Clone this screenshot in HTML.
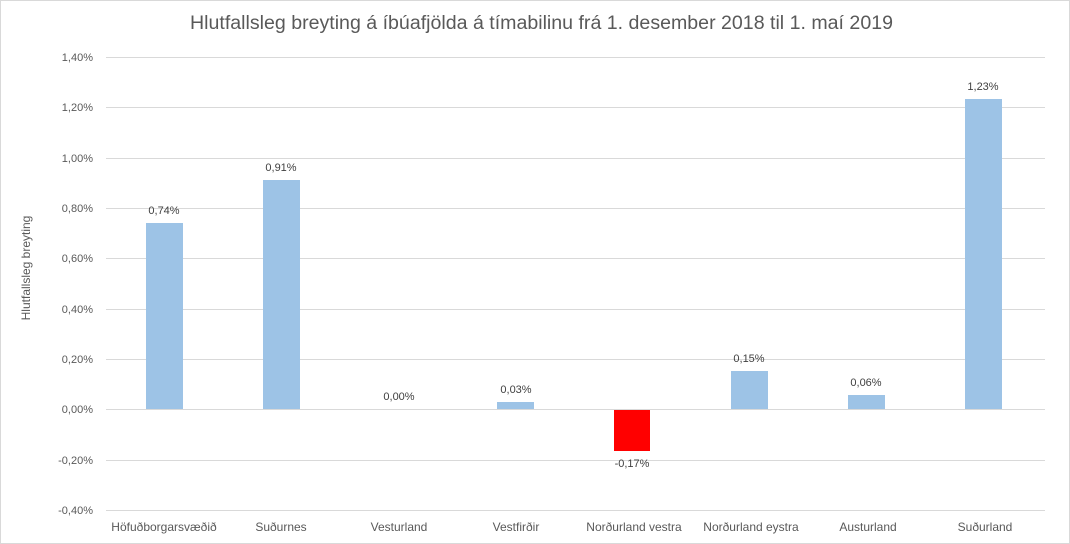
<!DOCTYPE html>
<html><head><meta charset="utf-8"><style>
html,body{margin:0;padding:0;background:#fff}
svg{display:block;font-family:"Liberation Sans",sans-serif}
</style></head><body>
<svg width="1070" height="544" viewBox="0 0 1070 544">
<rect x="0.5" y="0.5" width="1069" height="543" fill="#fff" stroke="#d9d9d9"/>
<text x="190" y="29" font-size="19" fill="#595959" textLength="703" lengthAdjust="spacingAndGlyphs">Hlutfallsleg breyting á íbúafjölda á tímabilinu frá 1. desember 2018 til 1. maí 2019</text>
<g stroke="#d9d9d9" stroke-width="1">
<line x1="106" x2="1045" y1="57.5" y2="57.5"/>
<line x1="106" x2="1045" y1="107.5" y2="107.5"/>
<line x1="106" x2="1045" y1="158.5" y2="158.5"/>
<line x1="106" x2="1045" y1="208.5" y2="208.5"/>
<line x1="106" x2="1045" y1="258.5" y2="258.5"/>
<line x1="106" x2="1045" y1="309.5" y2="309.5"/>
<line x1="106" x2="1045" y1="359.5" y2="359.5"/>
<line x1="106" x2="1045" y1="409.5" y2="409.5"/>
<line x1="106" x2="1045" y1="460.5" y2="460.5"/>
<line x1="106" x2="1045" y1="510.5" y2="510.5"/>
</g>
<g font-size="11" fill="#595959" text-anchor="end">
<text x="93" y="61">1,40%</text>
<text x="93" y="111">1,20%</text>
<text x="93" y="162">1,00%</text>
<text x="93" y="212">0,80%</text>
<text x="93" y="262">0,60%</text>
<text x="93" y="313">0,40%</text>
<text x="93" y="363">0,20%</text>
<text x="93" y="413">0,00%</text>
<text x="93" y="464">-0,20%</text>
<text x="93" y="514">-0,40%</text>
</g>
<text transform="translate(30,268) rotate(-90)" text-anchor="middle" font-size="12" fill="#595959">Hlutfallsleg breyting</text>
<g fill="#9dc3e6">
<rect x="146" y="223" width="37" height="186"/>
<rect x="263" y="180" width="37" height="229"/>
<rect x="497" y="402" width="37" height="7"/>
<rect x="731" y="371" width="37" height="38"/>
<rect x="848" y="395" width="37" height="14"/>
<rect x="965" y="99" width="37" height="310"/>
</g>
<rect x="614" y="410" width="36" height="41" fill="#ff0000"/>
<g font-size="11" fill="#404040" text-anchor="middle">
<text x="164" y="214">0,74%</text>
<text x="281" y="171">0,91%</text>
<text x="399" y="400">0,00%</text>
<text x="516" y="393">0,03%</text>
<text x="632" y="467">-0,17%</text>
<text x="749" y="362">0,15%</text>
<text x="866" y="386">0,06%</text>
<text x="983" y="90">1,23%</text>
</g>
<g font-size="12" fill="#595959" text-anchor="middle">
<text x="164" y="531">Höfuðborgarsvæðið</text>
<text x="281" y="531">Suðurnes</text>
<text x="399" y="531">Vesturland</text>
<text x="516" y="531">Vestfirðir</text>
<text x="634" y="531">Norðurland vestra</text>
<text x="751" y="531">Norðurland eystra</text>
<text x="868" y="531">Austurland</text>
<text x="985" y="531">Suðurland</text>
</g>
</svg>
</body></html>
